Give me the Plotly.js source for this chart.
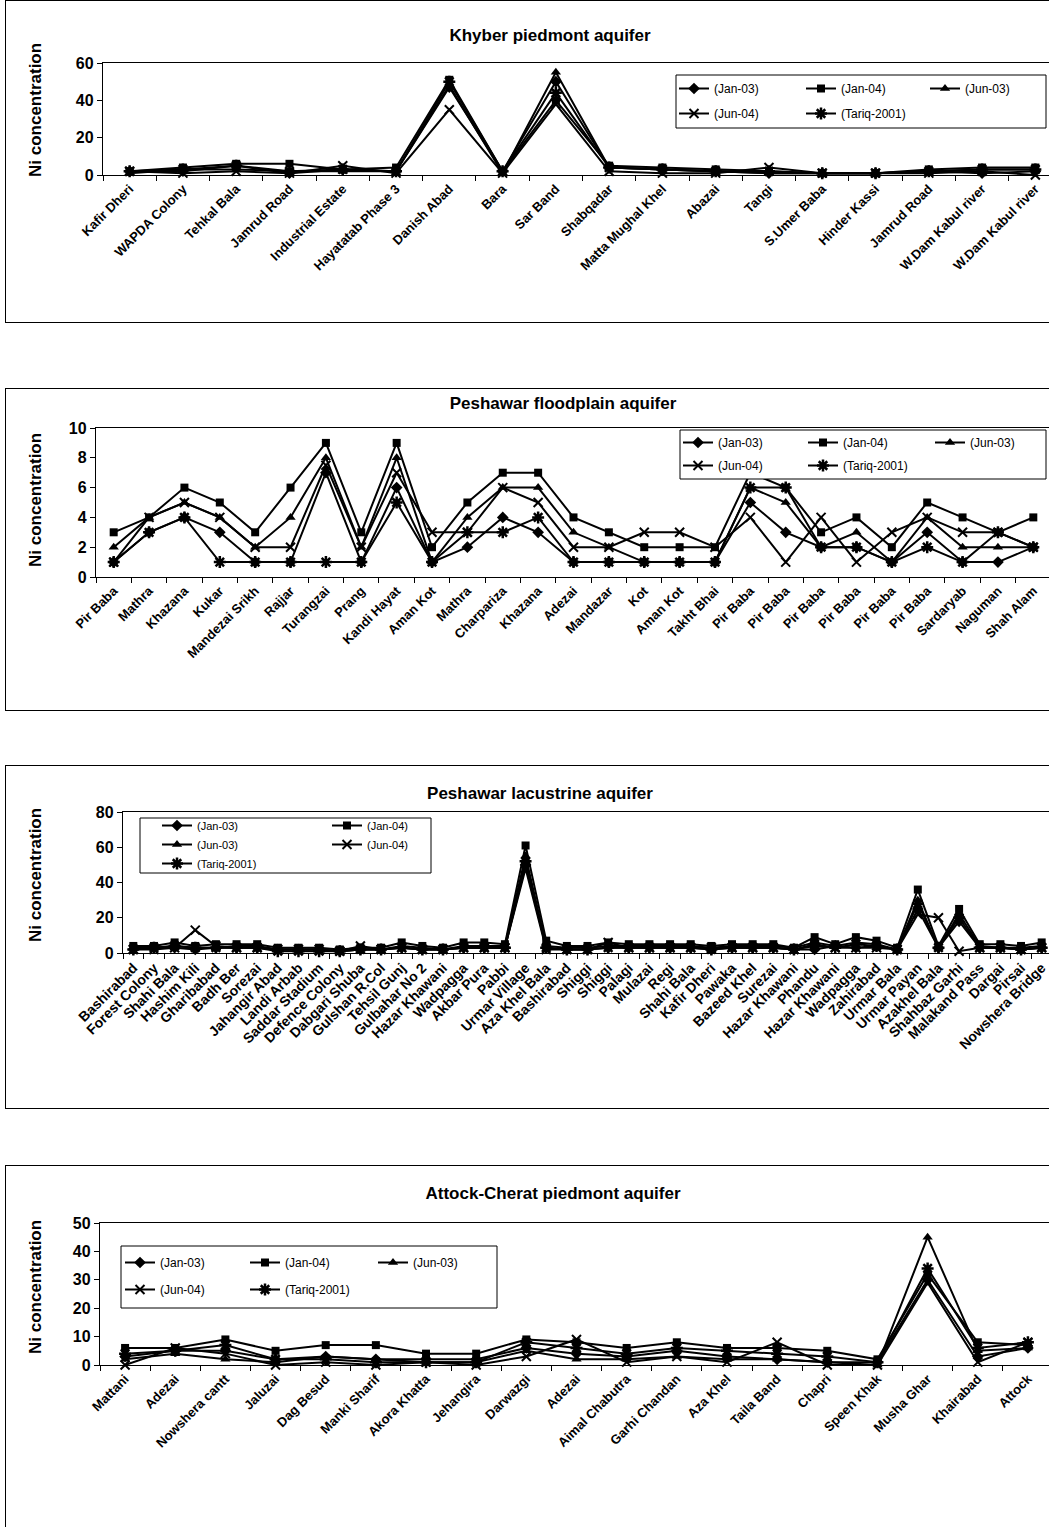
<!DOCTYPE html>
<html>
<head>
<meta charset="utf-8">
<script src="https://cdn.plot.ly/plotly-3.0.1.min.js"></script>
<style>
html,body{margin:0;padding:0;background:#fff;overflow:hidden;width:1049px;height:1527px;position:relative;}
.panel{position:absolute;left:5px;width:1100px;border:1px solid #000;box-sizing:border-box;background:#fff;}
.panel > div{position:absolute;left:0;top:0;}
</style>
</head>
<body>
<div class="panel" id="box1" style="top:0px;height:323px"><div id="p1"></div></div>
<div class="panel" id="box2" style="top:388px;height:323px"><div id="p2"></div></div>
<div class="panel" id="box3" style="top:765px;height:344px"><div id="p3"></div></div>
<div class="panel" id="box4" style="top:1165px;height:372px"><div id="p4"></div></div>
<script>
// ---------------- DATA ----------------
const seriesNames = ["(Jan-03)", "(Jan-04)", "(Jun-03)", "(Jun-04)", "(Tariq-2001)"];

// Khyber piedmont aquifer
const khyberSites = ["Kafir Dheri","WAPDA Colony","Tehkal Bala","Jamrud Road","Industrial Estate","Hayatatab Phase 3","Danish Abad","Bara","Sar Band","Shabqadar","Matta Mughal Khel","Abazai","Tangi","S.Umer Baba","Hinder Kassi","Jamrud Road","W.Dam Kabul river","W.Dam Kabul river"];
const khyberJan03 = [2,2,5,1,3,2,47,2,50,4,3,2,1,1,1,2,1,2];
const khyberJan04 = [2,4,6,6,3,4,51,2,40,5,4,3,2,1,1,3,4,4];
const khyberJun03 = [1,3,3,2,2,2,48,1,55,4,3,2,1,1,1,2,3,3];
const khyberJun04 = [2,1,2,1,5,1,35,1,38,2,1,1,4,1,1,1,2,0];
const khyberTariq = [2,3,5,2,3,2,50,2,44,4,3,2,2,1,1,2,3,3];

// Peshawar floodplain aquifer
const floodSites = ["Pir Baba","Mathra","Khazana","Kukar","Mandezai Srikh","Rajjar","Turangzai","Prang","Kandi Hayat","Aman Kot","Mathra","Charpariza","Khazana","Adezai","Mandazar","Kot","Aman Kot","Takht Bhai","Pir Baba","Pir Baba","Pir Baba","Pir Baba","Pir Baba","Pir Baba","Sardaryab","Naguman","Shah Alam"];
const floodJan03 = [1,3,4,3,1,1,7,1,6,1,2,4,3,1,1,1,1,1,5,3,2,2,1,3,1,1,2];
const floodJan04 = [3,4,6,5,3,6,9,3,9,2,5,7,7,4,3,2,2,2,7,6,3,4,2,5,4,3,4];
const floodJun03 = [2,4,5,4,2,4,8,2,8,1,4,6,6,3,2,1,1,1,6,5,2,3,1,4,2,2,2];
const floodJun04 = [1,4,5,4,2,2,7.5,2,7,3,3,6,5,2,2,3,3,2,4,1,4,1,3,4,3,3,2];
const floodTariq = [1,3,4,1,1,1,1,1,5,1,3,3,4,1,1,1,1,1,6,6,2,2,1,2,1,3,2];

// Peshawar lacustrine aquifer
const lacSites = ["Bashirabad","Forest Colony","Shahi Bala","Hashim Kili","Gharibabad","Badh Ber","Sorezai","Jahangir Abad","Landi Arbab","Saddar Stadium","Defence Colony","Dabgari Shuba","Gulshan R.Col","Tehsil Gunj","Gulbahar No 2","Hazar Khawani","Wadpagga","Akbar Pura","Pabbi","Urmar Village","Aza Khel Bala","Bashirabad","Shiggi","Shiggi","Palagi","Mulazai","Regi","Shahi Bala","Kafir Dheri","Pawaka","Bazeed Khel","Surezai","Hazar Khawani","Phandu","Hazar Khawani","Wadpagga","Zahirabad","Urmar Bala","Urmar Payan","Azakhel Bala","Shahbaz Garhi","Malakand Pass","Dargai","Pirsai","Nowshera Bridge"];
const lacJan03 = [2,3,3,2,3, 3,3,2,2,2, 1,2,2,3,2, 2,3,3,3,50, 3,2,2,3,3, 3,3,3,2,3, 3,3,2,2,4, 3,4,2,25,3, 18,3,3,2,3];
const lacJan04 = [4,4,6,4,5, 5,5,3,3,3, 2,3,3,6,4, 3,6,6,5,61, 7,4,4,6,5, 5,5,5,4,5, 5,5,3,9,5, 9,7,3,36,4, 25,5,5,4,6];
const lacJun03 = [3,3,4,3,3, 4,4,2,2,2, 1,2,2,4,3, 2,4,4,4,55, 4,3,3,4,4, 4,4,4,3,4, 4,4,3,6,4, 6,5,2,30,3, 22,4,3,3,4];
const lacJun04 = [2,2,3,13,4, 3,3,2,2,2, 1,4,2,3,2, 2,3,3,3,48, 2,2,2,6,3, 3,3,3,3,3, 3,3,2,4,3, 3,3,2,22,20, 1,3,3,2,3];
const lacTariq = [2,3,4,3,3, 3,3,1,1,1, 1,2,2,3,2, 2,3,3,3,52, 3,2,2,3,3, 3,3,3,2,3, 3,3,2,5,3, 5,4,2,28,3, 20,3,3,2,3];

// Attock-Cherat piedmont aquifer
const attockSites = ["Mattani","Adezai","Nowshera cantt","Jaluzai","Dag Besud","Manki Sharif","Akora Khatta","Jehangira","Darwazgi","Adezai","Aimal Chabutra","Garhi Chandan","Aza Khel","Taila Band","Chapri","Speen Khak","Musha Ghar","Khairabad","Attock"];
const attockJan03 = [3,5,5,2,3,2,2,2,6,4,3,5,3,2,1,1,30,3,6];
const attockJan04 = [6,6,9,5,7,7,4,4,9,8,6,8,6,6,5,2,32,8,7];
const attockJun03 = [2,4,2,1,3,2,1,1,5,2,2,3,2,2,1,0,45,5,6];
const attockJun04 = [0,6,4,0,1,0,1,0,3,9,1,3,1,8,0,0,29,1,8];
const attockTariq = [4,5,7,2,2,1,1,1,8,6,4,6,5,4,3,1,34,6,8];

// ---------------- STYLE ----------------
const FONT = "'Liberation Sans', Arial, Helvetica, sans-serif";
const markerStyles = [
  {symbol:'diamond', size:9, color:'#000'},
  {symbol:'square', size:8, color:'#000'},
  {symbol:'triangle-up', size:9, color:'#000'},
  {symbol:'x-thin-open', size:9, color:'#000', line:{width:2, color:'#000'}},
  {symbol:'asterisk-open', size:10, color:'#000', line:{width:2.5, color:'#000'}}
];

function buildPanel(divId, cfg) {
  const W = 1098, H = cfg.height - 2;
  const T = cfg.top + 1, Lx = 6;
  const pw = cfg.plotR - cfg.plotL, ph = cfg.plotB - cfg.plotT;
  const px = ax => (ax - cfg.plotL) / pw;
  const py = ay => (cfg.plotB - ay) / ph;
  const idx = cfg.sites.map((_, i) => i);
  const traces = cfg.series.map((ys, k) => ({
    type: 'scatter', mode: 'lines+markers', name: seriesNames[k],
    x: idx, y: ys,
    line: {color: '#000', width: 2},
    marker: markerStyles[k],
    legend: cfg.legendOf[k], legendgroup: 'g' + k,
    cliponaxis: false, hoverinfo: 'skip'
  }));
  const legendBase = {
    bgcolor: 'rgba(0,0,0,0)', borderwidth: 0, orientation: 'v',
    font: {family: FONT, size: cfg.legFont, color: '#000'},
    tracegroupgap: cfg.legGap, xanchor: 'left', yanchor: 'top',
    traceorder: 'grouped', itemclick: false, itemdoubleclick: false
  };
  const layout = {
    width: W, height: H,
    margin: {l: cfg.plotL - Lx, r: W - (cfg.plotR - Lx), t: cfg.plotT - T, b: H - (cfg.plotB - T), pad: 0},
    paper_bgcolor: 'rgba(0,0,0,0)', plot_bgcolor: '#fff',
    showlegend: true,
    title: {text: cfg.title, font: {family: FONT, size: 17, weight: 'bold', color: '#000'},
            xref: 'container', yref: 'container', x: (cfg.titleX - Lx) / W, y: 1 - (cfg.titleY - T) / H,
            xanchor: 'center', yanchor: 'middle'},
    xaxis: {
      range: [-0.5, cfg.sites.length - 0.5], tickmode: 'array', tickvals: idx, ticktext: cfg.sites,
      tickangle: -45, ticks: '', showgrid: false, zeroline: false,
      showline: true, linecolor: '#000', linewidth: 1.2, mirror: true,
      tickfont: {family: FONT, size: cfg.xFont, weight: 'bold', color: '#000'},
      minor: {tickmode: 'linear', tick0: 0.5, dtick: 1, ticks: 'outside', ticklen: 5, tickwidth: 1, tickcolor: '#000', showgrid: false},
      fixedrange: true
    },
    yaxis: {
      range: [0, cfg.ymax], dtick: cfg.dtick, tick0: 0, ticks: 'outside', ticklen: 5, tickcolor: '#000',
      showgrid: false, zeroline: false, showline: true, linecolor: '#000', linewidth: 1.2, mirror: true,
      tickfont: {family: FONT, size: 16, weight: 'bold', color: '#000'}, fixedrange: true
    },
    annotations: [{
      text: 'Ni concentration', textangle: -90, showarrow: false,
      xref: 'paper', yref: 'paper', x: px(cfg.yTitleX), y: py(cfg.yTitleY),
      xanchor: 'center', yanchor: 'middle',
      font: {family: FONT, size: 17, weight: 'bold', color: '#000'}
    }],
    shapes: [{
      type: 'rect', xref: 'paper', yref: 'paper', layer: 'above',
      x0: px(cfg.legBox[0]), x1: px(cfg.legBox[1]), y0: py(cfg.legBox[3]), y1: py(cfg.legBox[2]),
      line: {color: '#000', width: 1}, fillcolor: '#fff'
    }]
  };
  const names = ['legend', 'legend2', 'legend3'];
  cfg.legCols.forEach((cx, j) => {
    layout[names[j]] = Object.assign({}, legendBase, {x: px(cx - 5), y: py(cfg.legTop)});
  });
  Plotly.newPlot(divId, traces, layout, {staticPlot: true, displayModeBar: false});
}

const threeCol = ['legend', 'legend2', 'legend3', 'legend', 'legend2'];
const twoCol = ['legend', 'legend2', 'legend', 'legend2', 'legend'];

buildPanel('p1', {
  top: 0, height: 323, sites: khyberSites,
  series: [khyberJan03, khyberJan04, khyberJun03, khyberJun04, khyberTariq],
  plotL: 103, plotR: 1062, plotT: 63, plotB: 175, ymax: 60, dtick: 20, xFont: 13,
  title: 'Khyber piedmont aquifer', titleX: 550, titleY: 35, yTitleX: 35, yTitleY: 110,
  legBox: [676, 1046, 75, 128], legCols: [679, 806, 930], legTop: 74, legGap: 6, legFont: 12,
  legendOf: threeCol
});
buildPanel('p2', {
  top: 388, height: 323, sites: floodSites,
  series: [floodJan03, floodJan04, floodJun03, floodJun04, floodTariq],
  plotL: 96, plotR: 1051, plotT: 428, plotB: 577, ymax: 10, dtick: 2, xFont: 13,
  title: 'Peshawar floodplain aquifer', titleX: 563, titleY: 403, yTitleX: 35, yTitleY: 500,
  legBox: [680, 1046, 430, 479], legCols: [683, 808, 935], legTop: 428, legGap: 4, legFont: 12,
  legendOf: threeCol
});
buildPanel('p3', {
  top: 765, height: 344, sites: lacSites,
  series: [lacJan03, lacJan04, lacJun03, lacJun04, lacTariq],
  plotL: 123, plotR: 1052, plotT: 812, plotB: 953, ymax: 80, dtick: 20, xFont: 14,
  title: 'Peshawar lacustrine aquifer', titleX: 540, titleY: 793, yTitleX: 35, yTitleY: 875,
  legBox: [140, 431, 818, 873], legCols: [162, 332], legTop: 811, legGap: 0, legFont: 11,
  legendOf: twoCol
});
buildPanel('p4', {
  top: 1165, height: 372, sites: attockSites,
  series: [attockJan03, attockJan04, attockJun03, attockJun04, attockTariq],
  plotL: 100, plotR: 1053, plotT: 1223, plotB: 1365, ymax: 50, dtick: 10, xFont: 13,
  title: 'Attock-Cherat piedmont aquifer', titleX: 553, titleY: 1193, yTitleX: 35, yTitleY: 1287,
  legBox: [121, 497, 1246, 1308], legCols: [125, 250, 378], legTop: 1248, legGap: 8, legFont: 12,
  legendOf: threeCol
});
</script>
</body>
</html>
